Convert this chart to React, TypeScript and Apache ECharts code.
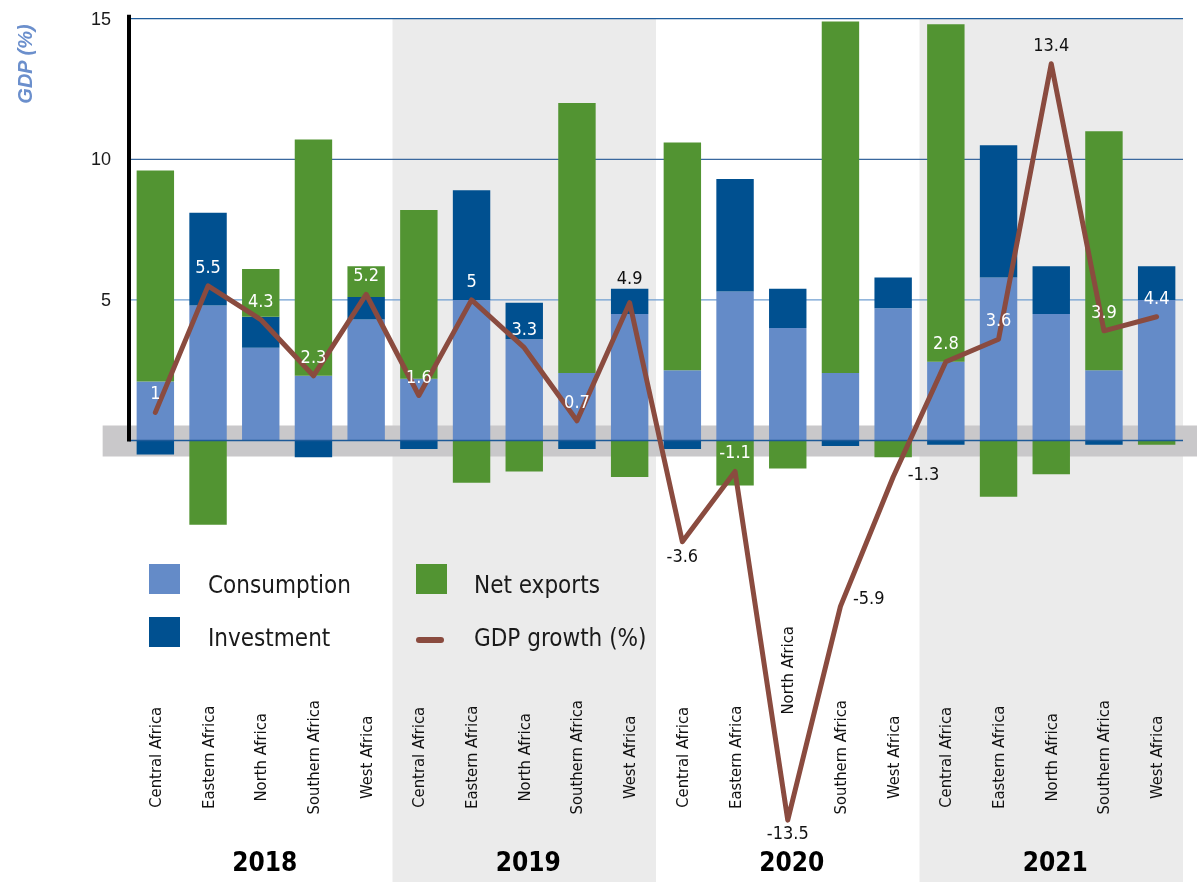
import React, { useEffect, useRef } from 'react';
import * as echarts from 'echarts';

const regions = ['Central Africa', 'Eastern Africa', 'North Africa', 'Southern Africa', 'West Africa'];
const years = ['2018', '2019', '2020', '2021'];

const consumption = [2.1, 4.8, 3.3, 2.3, 4.3, 2.2, 5.0, 3.6, 2.4, 4.5, 2.5, 5.3, 4.0, 2.4, 4.7, 2.8, 5.8, 4.5, 2.5, 5.0];
const investment = [-0.5, 3.3, 1.1, -0.6, 0.8, -0.3, 3.9, 1.3, -0.3, 0.9, -0.3, 4.0, 1.4, -0.2, 1.1, -0.15, 4.7, 1.7, -0.15, 1.2];
const netExports = [7.5, -3.0, 1.7, 8.4, 1.1, 6.0, -1.5, -1.1, 9.6, -1.3, 8.1, -1.6, -1.0, 12.5, -0.6, 12.0, -2.0, -1.2, 8.5, -0.15];
const gdpGrowth = [1, 5.5, 4.3, 2.3, 5.2, 1.6, 5, 3.3, 0.7, 4.9, -3.6, -1.1, -13.5, -5.9, -1.3, 2.8, 3.6, 13.4, 3.9, 4.4];
const yTicks = [5, 10, 15];

const categories = years.flatMap((y) => regions.map((r) => `${y}|${r}`));

const COND = "'DejaVu Sans Condensed', 'DejaVu Sans', sans-serif";
const REG = "'Liberation Sans', Arial, sans-serif";

const C_CONS = '#648bc8';
const C_INV = '#005090';
const C_NX = '#529432';
const C_LINE = '#8a4b3f';

const LINE_ICON = 'path://M0,0 M31,30 M3,20 L25,20 A3,3 0 0 1 25,26 L3,26 A3,3 0 0 1 3,20 Z';

export default function App() {
  const ref = useRef<HTMLDivElement>(null);

  useEffect(() => {
    const chart = echarts.init(ref.current!, null, { renderer: 'svg' });

    const labelOverrides: Record<number, any> = {
      9: { color: '#111', distance: 16 },
      10: { position: 'bottom', color: '#111', distance: 4 },
      12: { position: 'bottom', color: '#111', distance: 3 },
      13: { position: 'right', color: '#111', distance: 12, offset: [0, -9] },
      14: { position: 'right', color: '#111', distance: 14, offset: [0, -4] },
      17: { color: '#111' },
    };

    const legendText = (pad: number) => ({
      fontFamily: COND,
      fontSize: 24,
      color: '#1a1a1a',
      rich: {
        s: { fontSize: 10, lineHeight: 12 },
        a: { fontFamily: COND, fontSize: 24, lineHeight: 28, color: '#1a1a1a', padding: [0, 0, 0, pad] },
      },
    });

    const legendBase = {
      orient: 'vertical',
      top: 560,
      padding: 0,
      itemWidth: 31,
      itemHeight: 30,
      itemGap: 16,
      selectedMode: false,
      formatter: (name: string) => `{s| }\n{a|${name}}`,
    };

    chart.setOption({
      animation: false,
      grid: { left: 129, right: 14, top: 18.7, bottom: 19.7, outerBoundsMode: 'none', containLabel: false },
      legend: [
        {
          ...legendBase,
          data: [
            { name: 'Consumption', icon: 'rect' },
            { name: 'Investment', icon: 'rect' },
          ],
          left: 149,
          textStyle: legendText(23),
        },
        {
          ...legendBase,
          data: [
            { name: 'Net exports', icon: 'rect' },
            { name: 'GDP growth (%)', icon: LINE_ICON },
          ],
          left: 416,
          textStyle: legendText(22),
        },
      ],
      xAxis: [
        {
          type: 'category',
          data: categories,
          position: 'bottom',
          axisLine: { show: false },
          axisTick: { show: false },
          axisLabel: {
            interval: 0,
            rotate: 90,
            align: 'center',
            verticalAlign: 'middle',
            margin: -105,
            fontFamily: COND,
            fontSize: 16.5,
            color: '#111',
            formatter: (v: string, i: number) => {
              const name = v.split('|')[1];
              return i === 12 ? `{hi|${name}}` : name;
            },
            rich: {
              hi: { fontFamily: COND, fontSize: 16.5, color: '#111', padding: [0, 0, 0, 174] },
            },
          },
        },
        {
          type: 'category',
          data: years,
          position: 'bottom',
          axisLine: { show: false },
          axisTick: { show: false },
          axisLabel: {
            margin: 0,
            verticalAlign: 'middle',
            fontFamily: COND,
            fontWeight: 'bold',
            fontSize: 26,
            color: '#000',
            padding: [0, 0, 0, 8],
          },
        },
      ],
      yAxis: {
        type: 'value',
        min: -15,
        max: 15,
        interval: 5,
        axisLine: { show: false },
        axisTick: { show: false },
        splitLine: { show: false },
        axisLabel: {
          margin: 18,
          fontFamily: REG,
          fontSize: 18,
          color: '#1a1a1a',
          formatter: (v: number) => (v > 0 ? String(v) : ''),
        },
      },
      series: [
        {
          name: 'Consumption',
          type: 'bar',
          stack: 'gdp',
          barWidth: '71%',
          itemStyle: { color: C_CONS },
          data: consumption,
        },
        {
          name: 'Investment',
          type: 'bar',
          stack: 'gdp',
          barWidth: '71%',
          itemStyle: { color: C_INV },
          data: investment,
        },
        {
          name: 'Net exports',
          type: 'bar',
          stack: 'gdp',
          barWidth: '71%',
          itemStyle: { color: C_NX },
          data: netExports,
        },
        {
          name: 'GDP growth (%)',
          type: 'line',
          z: 20,
          symbol: 'circle',
          symbolSize: 1,
          showSymbol: true,
          lineStyle: { color: C_LINE, width: 5, cap: 'round', join: 'round' },
          itemStyle: { color: C_LINE },
          label: {
            show: true,
            position: 'top',
            distance: 10,
            color: '#fff',
            fontFamily: COND,
            fontSize: 18,
          },
          data: gdpGrowth.map((v, i) => ({ value: v, label: labelOverrides[i] || {} })),
        },
      ],
    });

    const yPix = (v: number) => chart.convertToPixel({ yAxisIndex: 0 }, v) as number;
    const yearX = years.map((y) => chart.convertToPixel({ xAxisIndex: 1 }, y) as number);
    const bw = yearX[1] - yearX[0];
    const c0 = chart.convertToPixel({ xAxisIndex: 0 }, categories[0]) as number;
    const c1 = chart.convertToPixel({ xAxisIndex: 0 }, categories[1]) as number;
    const catBw = c1 - c0;
    const gridLeft = yearX[0] - bw / 2;
    const gridRight = yearX[yearX.length - 1] + bw / 2;
    const y15 = yPix(15);
    const y0 = yPix(0);
    const W = 1197;
    const H = 882;

    const gridColors: Record<number, string> = { 5: '#6e9ed1', 10: '#3a689e', 15: '#1f5c9c' };

    const elements: any[] = [];
    [1, 3].forEach((i) => {
      elements.push({
        type: 'rect',
        silent: true,
        z: -10,
        shape: { x: yearX[i] - bw / 2, y: y15, width: bw, height: H - y15 },
        style: { fill: '#ebebeb' },
      });
    });
    elements.push({
      type: 'rect',
      silent: true,
      z: -5,
      shape: { x: gridLeft - catBw / 2, y: y0 - 15, width: W - (gridLeft - catBw / 2), height: 31 },
      style: { fill: '#c9c8ca' },
    });
    yTicks.forEach((t) => {
      const yy = yPix(t);
      elements.push({
        type: 'line',
        silent: true,
        z: -1,
        shape: { x1: gridLeft, y1: yy, x2: gridRight, y2: yy },
        style: { stroke: gridColors[t], lineWidth: 1.2 },
      });
    });
    elements.push({
      type: 'line',
      silent: true,
      z: 10,
      shape: { x1: gridLeft, y1: y0, x2: gridRight, y2: y0 },
      style: { stroke: '#1d5a98', lineWidth: 1.5 },
    });
    elements.push({
      type: 'line',
      silent: true,
      z: 11,
      shape: { x1: gridLeft, y1: y15 - 4, x2: gridLeft, y2: y0 + 1 },
      style: { stroke: '#000', lineWidth: 4 },
    });
    elements.push({
      type: 'text',
      silent: true,
      z: 11,
      x: 25,
      y: 64,
      rotation: Math.PI / 2,
      style: {
        text: 'GDP (%)',
        fill: '#6b8fcc',
        fontFamily: REG,
        fontSize: 20,
        fontWeight: 'bold',
        fontStyle: 'italic',
        align: 'center',
        verticalAlign: 'middle',
      },
    });

    chart.setOption({ graphic: { elements } });

    return () => chart.dispose();
  }, []);

  return <div ref={ref} style={{ position: 'fixed', left: 0, top: 0, width: 1197, height: 882 }} />;
}
